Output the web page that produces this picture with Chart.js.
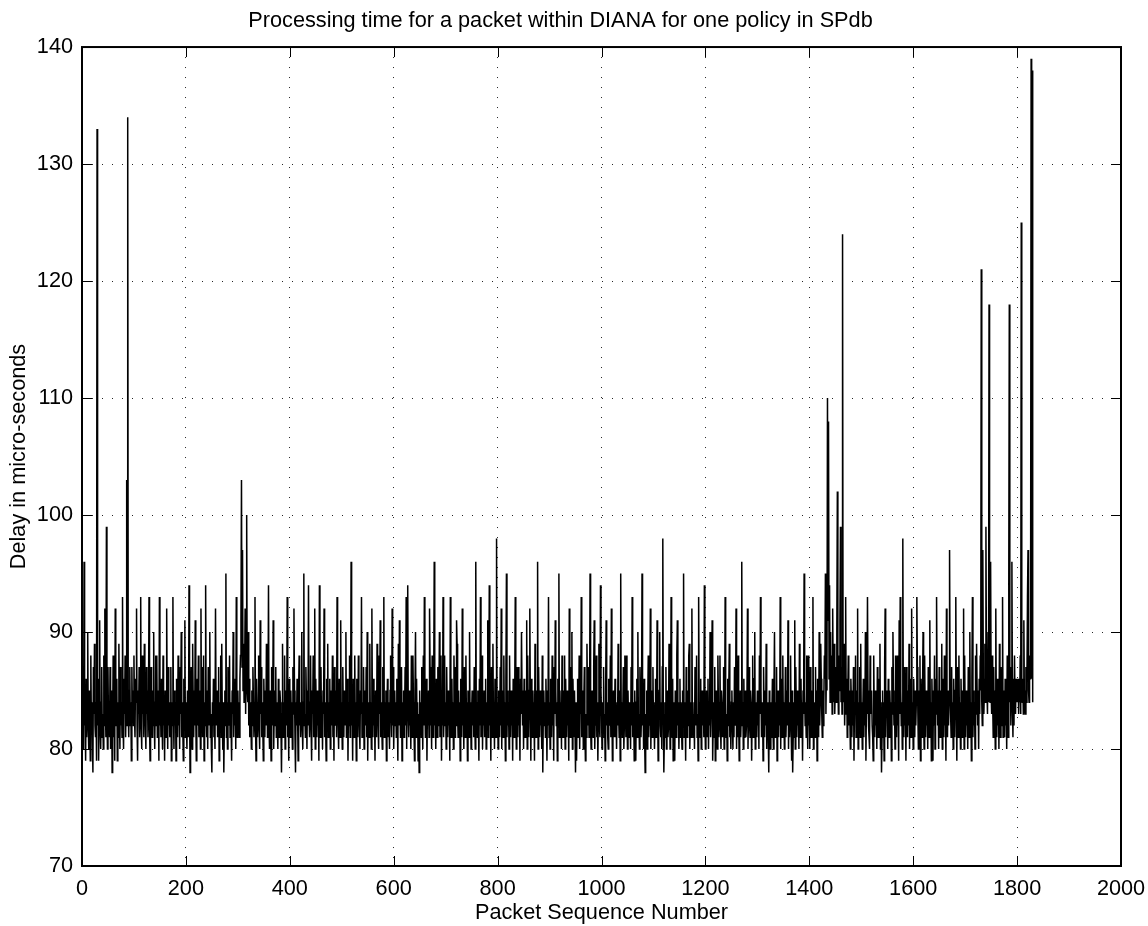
<!DOCTYPE html>
<html>
<head>
<meta charset="utf-8">
<script src="https://cdn.jsdelivr.net/npm/chart.js@4/dist/chart.umd.min.js"></script>
<style>
html,body{margin:0;padding:0;background:#fff;}
canvas{display:block;}
</style>
</head>
<body>
<canvas id="c" width="1148" height="926"></canvas>
<script>
const chartTitle = 'Processing time for a packet within DIANA for one policy in SPdb';
const xTitle = 'Packet Sequence Number';
const yTitle = 'Delay in micro-seconds';
const xTickValues = [0,200,400,600,800,1000,1200,1400,1600,1800,2000];
const yTickValues = [70,80,90,100,110,120,130,140];

// delay (micro-seconds) for packets 1..1830
const delays = [
87,83,80,96,82,84,79,86,81,83,90,82,80,85,83,79,88,82,84,81,78,87,83,89,82,
81,84,79,133,82,86,79,83,91,82,80,84,87,81,83,80,88,82,92,84,81,99,83,80,87,
82,84,81,87,80,83,85,78,82,88,81,84,79,92,83,82,86,79,84,81,89,83,80,87,82,
84,81,93,82,80,86,83,88,81,84,103,82,134,83,81,85,87,82,84,79,87,83,85,82,88,
83,81,86,84,92,82,79,85,83,87,81,84,93,82,80,88,83,85,81,89,84,82,80,87,83,
85,81,84,93,82,79,83,87,84,81,85,82,90,83,80,84,88,82,88,81,83,85,79,93,82,
84,81,86,83,80,88,82,84,79,85,83,81,92,84,80,87,82,84,81,83,87,79,84,82,93,
83,80,85,82,84,79,86,83,81,88,82,84,80,87,83,90,81,84,82,79,86,83,91,81,84,
82,80,85,83,81,94,84,78,82,87,83,80,89,84,81,85,82,91,83,79,84,86,82,88,81,
83,85,80,92,82,87,81,83,88,79,84,82,94,83,81,85,80,87,82,84,90,81,83,80,78,
84,82,86,81,83,80,92,84,82,85,81,83,87,79,84,82,88,81,89,83,80,84,78,82,85,
83,95,81,84,80,87,82,83,88,81,84,82,79,85,83,90,81,84,82,86,80,93,83,81,85,
82,84,81,86,88,91,103,87,97,85,89,84,86,92,83,88,100,85,84,90,82,86,81,84,83,
80,85,82,87,84,81,83,93,82,79,86,84,81,83,88,82,80,91,83,87,81,84,82,79,86,
83,81,85,82,89,88,81,83,94,82,80,85,83,79,87,84,82,91,80,83,85,82,87,81,84,
82,80,86,83,81,85,84,82,78,83,89,81,84,82,88,80,83,85,82,93,81,84,79,86,83,
81,85,82,84,80,87,83,92,85,81,78,84,82,86,83,79,85,88,82,84,81,83,90,82,80,
84,95,82,83,81,87,84,80,85,82,94,83,81,84,88,82,79,85,83,88,81,84,92,80,86,
83,81,85,82,84,79,94,83,81,87,82,84,80,85,83,92,81,84,82,79,86,83,89,81,84,
82,86,80,83,85,82,88,81,84,79,87,83,82,85,81,93,84,82,80,86,83,81,91,82,84,
80,87,83,81,85,82,84,90,81,83,86,79,84,82,88,81,83,96,82,84,79,86,83,81,88,
82,84,79,86,83,81,88,84,82,80,85,83,93,81,84,82,87,80,83,85,82,87,81,90,79,
84,83,81,89,82,84,80,92,83,81,86,82,84,79,85,83,81,89,84,82,80,88,83,91,81,
84,82,80,87,83,93,81,84,82,85,79,83,86,81,84,82,80,85,88,83,81,92,82,87,80,
83,85,82,84,81,86,83,79,89,82,91,84,81,83,87,79,84,82,85,81,83,87,82,93,80,
86,94,83,81,85,82,84,80,88,83,81,88,84,82,79,85,90,81,86,82,84,79,83,78,85,
82,84,81,87,83,80,88,82,93,84,81,83,86,79,84,82,85,81,92,87,82,84,80,88,83,
81,85,96,82,84,80,86,83,81,87,82,84,90,81,83,88,79,84,82,93,81,83,88,82,84,
80,87,83,81,85,82,84,79,93,83,81,86,82,84,80,88,83,81,87,82,91,89,83,81,85,
82,84,79,86,83,81,92,82,84,80,87,83,81,88,82,84,79,85,83,81,90,82,84,80,83,
85,82,84,81,87,83,80,96,82,84,81,85,83,79,86,82,93,81,83,88,80,84,82,85,81,
83,86,80,84,82,91,81,83,94,82,84,79,87,83,81,89,82,84,80,86,83,81,98,82,84,
80,85,83,81,87,82,92,80,85,83,81,88,82,84,79,86,95,81,85,82,84,80,88,83,81,
85,82,84,79,86,83,81,85,93,84,80,87,83,81,87,82,84,79,86,83,90,85,82,84,80,
86,83,81,85,82,91,80,88,83,81,85,92,84,79,86,83,81,85,82,84,79,89,83,81,85,
82,96,80,87,83,81,85,82,84,80,88,78,83,85,82,84,81,86,83,79,85,82,93,81,84,
80,86,83,81,88,82,84,79,87,83,91,85,82,84,79,86,83,95,81,85,82,84,80,88,83,
81,85,82,88,80,86,83,81,85,82,84,79,92,83,81,87,82,90,80,86,83,81,85,82,78,
84,79,83,86,81,82,88,80,84,83,93,81,82,85,80,84,87,82,79,83,81,89,84,82,87,
81,83,95,82,80,84,85,82,81,87,91,80,83,82,88,81,84,79,83,89,82,81,94,85,83,
80,84,82,87,81,83,79,85,91,82,84,81,80,86,83,82,88,81,92,84,79,83,85,81,82,
86,81,83,80,84,82,89,83,81,85,79,95,82,84,81,83,87,80,82,88,84,81,88,83,80,
85,82,81,84,83,80,87,82,93,81,84,83,79,85,82,79,84,86,81,90,82,83,80,87,84,
81,83,95,82,84,80,86,81,78,83,82,85,80,84,88,81,83,82,92,80,85,83,81,87,82,
84,80,83,86,81,82,91,84,79,83,85,90,82,81,84,80,87,98,83,78,81,84,82,87,80,
83,85,81,82,89,84,80,83,93,82,81,86,79,84,82,79,85,83,81,88,91,82,84,80,83,
86,81,84,82,80,85,83,95,81,82,84,79,87,83,81,85,82,88,89,80,83,84,81,92,82,
84,81,83,80,87,82,85,88,81,83,79,93,84,82,81,86,80,83,85,82,84,81,94,83,80,
82,85,81,83,86,80,84,82,90,81,83,85,91,79,82,84,81,87,79,83,85,82,80,88,84,
81,83,88,82,80,85,84,81,83,87,80,82,93,84,81,83,79,86,82,85,89,81,83,80,84,
85,82,80,84,81,87,83,82,92,80,84,81,88,83,79,82,85,81,83,96,82,84,80,86,81,
83,85,81,82,84,92,80,83,87,82,81,85,84,79,83,88,81,82,86,90,80,84,83,81,85,
82,84,80,88,83,93,85,81,82,84,79,87,83,81,85,82,89,80,84,83,81,78,85,82,80,
84,81,83,86,82,80,85,90,81,84,82,87,79,83,85,81,84,82,93,80,86,83,81,88,82,
84,80,82,87,81,83,85,82,91,80,84,81,83,88,82,79,85,78,81,84,82,91,80,87,83,
81,85,82,84,80,89,83,81,86,82,84,79,85,83,95,85,82,84,81,88,83,80,88,82,84,
80,87,83,81,85,82,93,80,84,83,81,87,82,85,79,86,83,81,90,82,84,89,86,83,81,
85,82,84,88,86,95,83,87,85,110,91,108,86,94,84,90,85,88,83,92,86,84,89,83,85,
87,84,90,102,86,83,88,85,91,99,84,87,83,124,86,84,89,82,85,93,83,86,81,84,88,
82,85,83,80,86,84,81,85,82,87,79,84,83,88,81,85,82,92,80,84,83,87,81,89,82,
84,80,83,86,81,85,82,90,79,84,83,93,85,82,81,80,88,83,84,85,82,81,79,88,83,
81,85,82,84,80,87,83,81,86,82,89,80,84,78,81,85,82,84,79,87,92,81,85,83,84,
80,86,82,81,85,83,84,79,87,83,90,85,82,84,80,88,83,81,88,82,84,79,91,83,93,
85,82,84,80,98,83,81,87,82,84,79,87,83,81,85,82,89,80,86,83,81,92,82,84,80,
86,83,81,85,82,84,93,87,83,80,85,82,88,79,86,83,81,85,90,84,80,88,83,81,85,
82,84,80,87,83,81,91,82,84,79,86,83,79,85,82,88,80,86,83,93,85,82,84,80,87,
83,81,85,82,89,80,86,83,81,88,82,84,79,92,83,81,85,82,84,97,86,83,81,87,82,
84,80,86,83,81,85,93,84,79,87,83,81,88,82,84,80,86,83,81,85,82,92,80,88,83,
81,85,82,84,80,87,83,81,90,82,84,79,86,93,81,85,82,84,80,88,83,89,85,82,84,
80,86,83,88,85,121,84,82,97,86,83,85,89,84,99,87,85,83,90,84,118,86,84,96,85,
83,88,84,81,87,82,85,80,92,83,81,86,82,85,80,89,83,81,87,84,82,93,81,85,83,
81,86,82,84,80,88,83,81,94,118,84,87,82,85,96,84,81,86,82,88,84,83,86,84,85,
84,86,83,85,84,88,83,125,85,84,86,83,91,84,85,83,87,84,86,93,97,85,84,88,86,
91,139,86,138,84
];

const points = delays.map((v, i) => ({x: i + 1, y: v}));

const FONT = {family: '"Liberation Sans", Arial, Helvetica, sans-serif', size: 21.7};

const boxTicks = {
  id: 'boxTicks',
  afterDraw(chart) {
    const {ctx, chartArea: a, scales: {x, y}} = chart;
    ctx.save();
    ctx.strokeStyle = '#000';
    ctx.lineWidth = 1;
    const L = 10;
    ctx.beginPath();
    xTickValues.forEach(v => {
      const px = Math.round(x.getPixelForValue(v)) + 0.5;
      ctx.moveTo(px, a.bottom); ctx.lineTo(px, a.bottom - L);
      ctx.moveTo(px, a.top); ctx.lineTo(px, a.top + L);
    });
    yTickValues.forEach(v => {
      const py = Math.round(y.getPixelForValue(v)) + 0.5;
      ctx.moveTo(a.left, py); ctx.lineTo(a.left + L, py);
      ctx.moveTo(a.right, py); ctx.lineTo(a.right - L, py);
    });
    ctx.stroke();
    ctx.lineWidth = 2;
    ctx.strokeRect(a.left, a.top, a.right - a.left, a.bottom - a.top);
    ctx.restore();
  }
};

new Chart(document.getElementById('c'), {
  type: 'line',
  data: {
    datasets: [{
      data: points,
      borderColor: '#000',
      borderWidth: 1.5,
      pointRadius: 0,
      tension: 0,
      fill: false
    }]
  },
  options: {
    responsive: false,
    animation: false,
    parsing: false,
    normalized: true,
    layout: {padding: {left: 0, right: 27, top: 0, bottom: 0}},
    plugins: {
      legend: {display: false},
      tooltip: {enabled: false},
      title: {
        display: true,
        text: chartTitle,
        color: '#000',
        font: {family: FONT.family, size: 21.7, weight: 'normal'},
        padding: {top: 8, bottom: 13}
      }
    },
    scales: {
      x: {
        type: 'linear',
        min: 0, max: 2000,
        afterFit(s) { s.height = 60; s.paddingLeft = 0; s.paddingRight = 0; },
        afterBuildTicks(s) { s.ticks = xTickValues.map(v => ({value: v})); },
        ticks: {color: '#000', font: FONT, padding: 10, maxRotation: 0, autoSkip: false,
                callback: v => String(v)},
        grid: {color: 'rgba(0,0,0,0.85)', lineWidth: 1, drawTicks: false},
        border: {display: false, dash: [1, 9]},
        title: {display: true, text: xTitle, color: '#000', font: FONT, padding: {top: 0, bottom: 0}}
      },
      y: {
        type: 'linear',
        min: 70, max: 140,
        afterFit(s) { s.width = 82; s.paddingTop = 0; s.paddingBottom = 0; },
        afterBuildTicks(s) { s.ticks = yTickValues.map(v => ({value: v})); },
        ticks: {color: '#000', font: FONT, padding: 9, autoSkip: false,
                callback: v => String(v)},
        grid: {color: 'rgba(0,0,0,0.85)', lineWidth: 1, drawTicks: false},
        border: {display: false, dash: [1, 9]},
        title: {display: true, text: yTitle, color: '#000', font: FONT, padding: {top: 6, bottom: 0}}
      }
    }
  },
  plugins: [boxTicks]
});
</script>
</body>
</html>
